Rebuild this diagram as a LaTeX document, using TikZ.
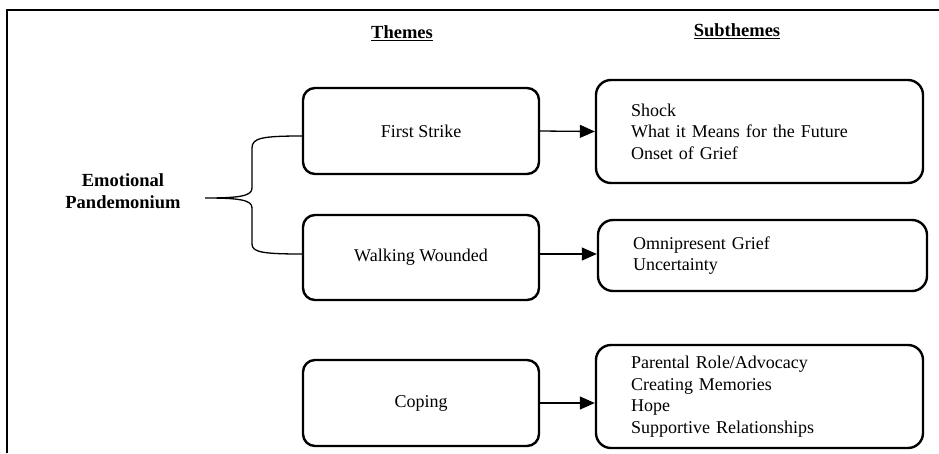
\documentclass[tikz,border=0pt]{standalone}
\usepackage{fontspec}
\setmainfont{Liberation Serif}
\usepackage{tikz}
\usetikzlibrary{arrows.meta,positioning,calc}

\begin{document}
\begin{tikzpicture}[x=1pt,y=-1pt,
  every node/.style={font=\fontsize{18}{21.6}\selectfont},
  headfont/.style={font=\fontsize{18.5}{22}\selectfont\bfseries},
  themebox/.style={draw,line width=2.4pt,rounded corners=12pt,
                   minimum width=236pt,minimum height=86pt,inner sep=0pt},
  subbox/.style={draw,line width=2.4pt,rounded corners=15pt,align=left,
                 inner xsep=35pt,inner ysep=0pt},
  link/.style={line width=1.3pt,-{Triangle[length=15pt,width=13pt]}},
  brace/.style={line width=1.3pt}]

\useasboundingbox (0,0) rectangle (939,453);

% frame
\draw[line width=1.6pt] (7,453) -- (7,10) -- (939,10);

% headers
\node[headfont] (hthemes) at (402,33) {\underline{Themes}};
\node[headfont] (hsub) at (737,31) {\underline{Subthemes}};

% root
\node[headfont,align=center] (root) at (123,191) {Emotional\\Pandemonium};

% themes
\node[themebox] (strike) at (421,131) {First Strike};
\node[themebox,minimum height=85pt] (wound) at (421,257.5) {Walking Wounded};
\node[themebox] (coping) at (421,403) {Coping};

% subthemes
\node[subbox,text width=257pt,minimum height=103pt] (subA) at (759.5,131.5)
  {Shock\\What it Means for the Future\\Onset of Grief};
\node[subbox,text width=259pt,minimum height=71pt] (subB) at (762.5,255.5)
  {Omnipresent Grief\\Uncertainty};
\node[subbox,text width=257pt,minimum height=103pt] (subC) at (759.5,396.5)
  {Parental Role/Advocacy\\Creating Memories\\Hope\\Supportive Relationships};

% brace
\coordinate (tip) at (205,198);
\draw[brace] ([yshift=-5pt]strike.west)
  .. controls (262,136) and (252,138) .. (252,148) -- (252,188)
  .. controls (252,196) and (240,198) .. (tip)
  .. controls (240,198) and (252,200) .. (252,208) -- (252,244)
  .. controls (252,252) and (262,254) .. ([yshift=3.5pt]wound.west);

% arrows
\draw[link] (strike.east) -- (subA.west);
\draw[link] ([yshift=3.5pt]wound.east) -- ([yshift=3.5pt]wound.east -| subB.west);
\draw[link] (coping.east) -- (coping.east -| subC.west);

\end{tikzpicture}
\end{document}
